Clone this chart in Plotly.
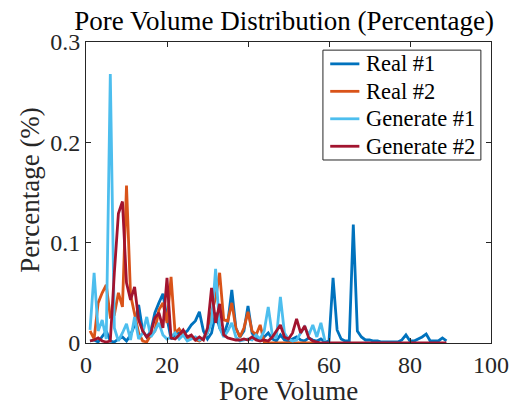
import plotly.graph_objects as go

real1 = [0.002, 0.003, 0.001, 0.006, 0.012, 0.002, 0.001, 0.004, 0.006, 0.002,
         0.008, 0.018, 0.038, 0.012, 0.006, 0.012, 0.030, 0.040, 0.049, 0.025,
         0.004, 0.008, 0.010, 0.009, 0.012, 0.018, 0.022, 0.031, 0.012, 0.004,
         0.010, 0.030, 0.015, 0.008, 0.020, 0.053, 0.015, 0.006, 0.012, 0.037,
         0.010, 0.004, 0.003, 0.006, 0.010, 0.004, 0.002, 0.008, 0.003, 0.002,
         0.004, 0.006, 0.003, 0.002, 0.005, 0.003, 0.002, 0.004, 0.001, 0.002,
         0.065, 0.013, 0.004, 0.002, 0.002, 0.118, 0.012, 0.006, 0.003, 0.003,
         0.002, 0.002, 0.001, 0.001, 0.001, 0.001, 0.001, 0.003, 0.008, 0.002,
         0.002, 0.004, 0.006, 0.009, 0.002, 0.002, 0.002, 0.005, 0.002]

real2 = [0.012, 0.004, 0.040, 0.050, 0.058, 0.026, 0.028, 0.050, 0.036, 0.157,
         0.048, 0.030, 0.010, 0.002, 0.001, 0.008, 0.012, 0.033, 0.040, 0.020,
         0.066, 0.010, 0.014, 0.008, 0.005, 0.006, 0.003, 0.002, 0.005, 0.010,
         0.030, 0.045, 0.070, 0.023, 0.022, 0.040, 0.015, 0.006, 0.015, 0.031,
         0.012, 0.008, 0.018, 0.001, 0.0, 0.0, 0.0, 0.0, 0.0, 0.0,
         0.0, 0.0, 0.0, 0.0, 0.0, 0.0, 0.0]

gen1 = [0.013, 0.070, 0.012, 0.023, 0.004, 0.268, 0.015, 0.002, 0.010, 0.019,
        0.003, 0.026, 0.004, 0.010, 0.026, 0.006, 0.012, 0.020, 0.008, 0.004,
        0.006, 0.010, 0.004, 0.008, 0.002, 0.004, 0.006, 0.003, 0.005, 0.010,
        0.020, 0.074, 0.015, 0.006, 0.012, 0.020, 0.006, 0.002, 0.003, 0.004,
        0.003, 0.008, 0.004, 0.012, 0.036, 0.008, 0.005, 0.046, 0.010, 0.004,
        0.002, 0.003, 0.010, 0.016, 0.008, 0.018, 0.006, 0.020, 0.002]

gen2 = [0.002, 0.003, 0.005, 0.002, 0.001, 0.002, 0.070, 0.129, 0.141, 0.060,
        0.043, 0.056, 0.023, 0.012, 0.006, 0.010, 0.025, 0.030, 0.015, 0.065,
        0.005, 0.004, 0.008, 0.013, 0.006, 0.008, 0.003, 0.006, 0.003, 0.015,
        0.055, 0.020, 0.039, 0.008, 0.005, 0.004, 0.003, 0.003, 0.004, 0.003,
        0.006, 0.003, 0.002, 0.003, 0.002, 0.006, 0.012, 0.018, 0.006, 0.004,
        0.010, 0.024, 0.010, 0.017, 0.005, 0.002, 0.001] + [0.0] * 32

series_names = ["Real #1", "Real #2", "Generate #1", "Generate #2"]
series_values = [real1, real2, gen1, gen2]
series_colors = ["#0072BD", "#D95319", "#4DBEEE", "#A2142F"]

x_ticks = [0, 20, 40, 60, 80, 100]
y_ticks = [0, 0.1, 0.2, 0.3]
y_ticklabels = ["0", "0.1", "0.2", "0.3"]

FONT = "Liberation Serif, Times New Roman, serif"
INK = "#262626"

fig = go.Figure()
for name, vals, color in zip(series_names, series_values, series_colors):
    fig.add_trace(go.Scatter(
        x=list(range(1, len(vals) + 1)), y=vals, mode="lines", name=name,
        line=dict(color=color, width=2.8), showlegend=False,
    ))

axis_common = dict(
    showline=True, linecolor=INK, linewidth=1, mirror="ticks",
    ticks="inside", ticklen=5, tickcolor=INK, showgrid=False,
    zeroline=False, automargin=False,
    tickfont=dict(family=FONT, size=24, color=INK),
)

# Legend drawn as a boxed key in paper coordinates (MATLAB-style compact spacing)
LX0, LX1, LY0, LY1 = 0.585, 0.975, 0.608, 0.973
shapes = [dict(type="rect", xref="paper", yref="paper", x0=LX0, x1=LX1, y0=LY0, y1=LY1,
               line=dict(color=INK, width=1), fillcolor="white", layer="above")]
annotations = []
row_h = (LY1 - LY0) / 4.0
for i, (name, color) in enumerate(zip(series_names, series_colors)):
    yc = LY1 - row_h * (i + 0.5)
    shapes.append(dict(type="line", xref="paper", yref="paper",
                       x0=LX0 + 0.018, x1=LX0 + 0.09, y0=yc, y1=yc,
                       line=dict(color=color, width=2.8), layer="above"))
    annotations.append(dict(xref="paper", yref="paper", x=LX0 + 0.102, y=yc,
                            xanchor="left", yanchor="middle", showarrow=False,
                            text=name, font=dict(family=FONT, size=22.5, color="#000000")))

# Axis titles
annotations.append(dict(xref="paper", yref="paper", x=0.5, y=-0.159, xanchor="center",
                        yanchor="middle", showarrow=False, text="Pore Volume",
                        font=dict(family=FONT, size=27, color=INK)))
annotations.append(dict(xref="paper", yref="paper", x=-0.139, y=0.508, xanchor="center",
                        yanchor="middle", showarrow=False, text="Percentage (%)",
                        textangle=-90, font=dict(family=FONT, size=27, color=INK)))

fig.update_layout(
    width=513, height=409,
    margin=dict(l=86, r=22, t=42, b=66),
    paper_bgcolor="white", plot_bgcolor="white",
    font=dict(family=FONT, color=INK),
    title=dict(text="Pore Volume Distribution (Percentage)", x=0.554, xanchor="center",
               y=0.95, yanchor="middle", font=dict(family=FONT, size=27, color="#000000")),
    xaxis=dict(range=[0, 100], tickvals=x_ticks, **axis_common),
    yaxis=dict(range=[0, 0.3], tickvals=y_ticks, ticktext=y_ticklabels, **axis_common),
    shapes=shapes,
    annotations=annotations,
    showlegend=False,
)

fig.write_html("out.html")
